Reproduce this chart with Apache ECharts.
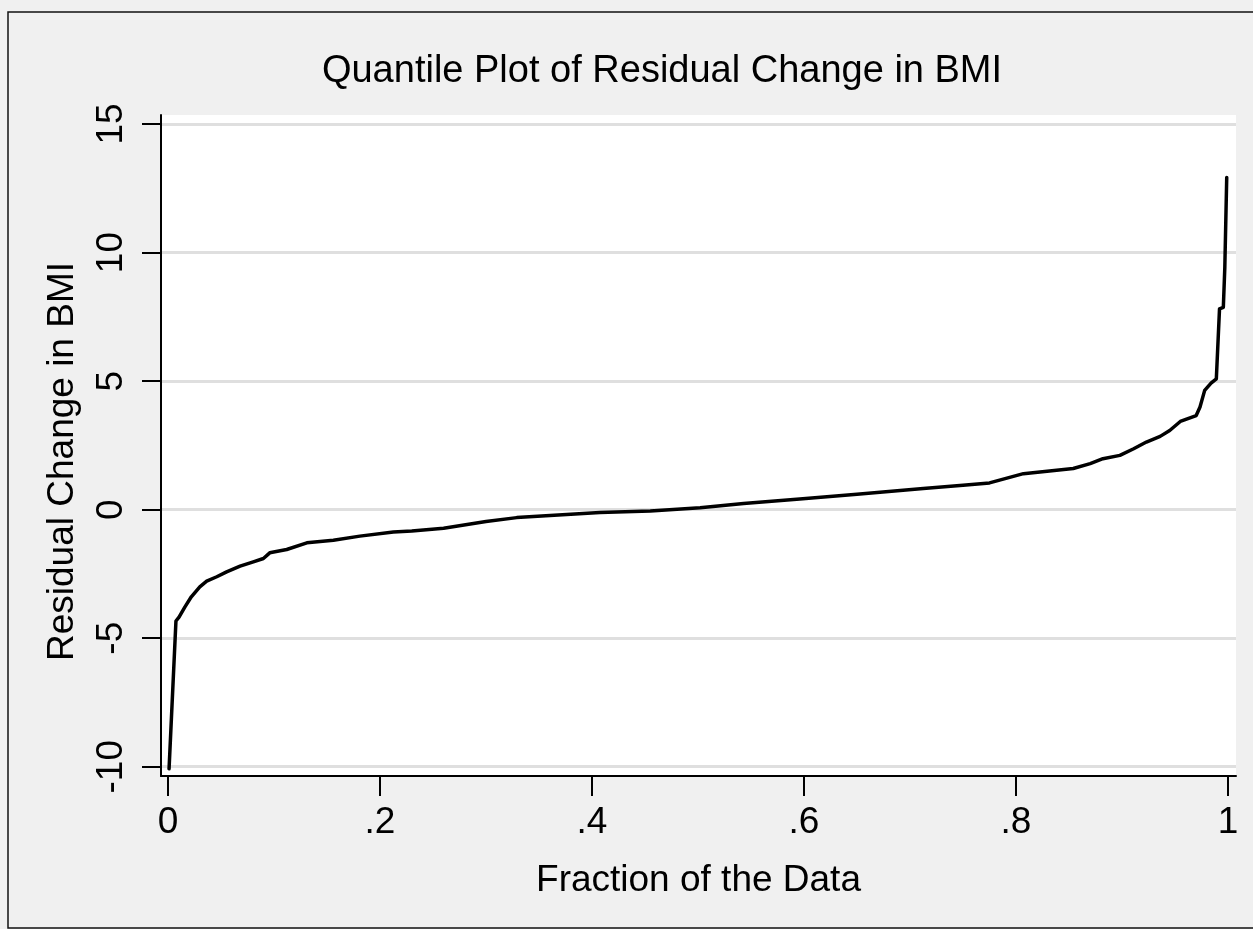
<!DOCTYPE html>
<html>
<head>
<meta charset="utf-8">
<title>Quantile Plot of Residual Change in BMI</title>
<script src="https://cdn.jsdelivr.net/npm/echarts@6/dist/echarts.min.js"></script>
<style>
  html, body { margin: 0; padding: 0; background: #f0f0f0; }
  #main { width: 1253px; height: 929px; }
</style>
</head>
<body>
<div id="main"></div>
<script>
// fraction of the data (x) and residual change in BMI (y)
var fractions = [0.001, 0.0075, 0.0104, 0.016, 0.022, 0.030, 0.0365, 0.046, 0.0553, 0.068,
    0.0805, 0.09, 0.096, 0.112, 0.131, 0.156, 0.181, 0.2126, 0.23, 0.26,
    0.30, 0.329, 0.4075, 0.455, 0.502, 0.543, 0.596, 0.65, 0.7125, 0.75,
    0.775, 0.807, 0.854, 0.87, 0.882, 0.898, 0.911, 0.923, 0.936, 0.945,
    0.955, 0.970, 0.9736, 0.978, 0.984, 0.989, 0.992, 0.9956, 0.997, 0.9988];
var residuals = [-10.08, -4.33, -4.18, -3.78, -3.39, -3.0, -2.78, -2.61, -2.42, -2.2,
    -2.03, -1.9, -1.68, -1.55, -1.29, -1.19, -1.03, -0.87, -0.83, -0.72,
    -0.46, -0.31, -0.11, -0.05, 0.07, 0.24, 0.41, 0.60, 0.82, 0.95,
    1.04, 1.40, 1.60, 1.79, 1.98, 2.11, 2.37, 2.63, 2.85, 3.08,
    3.43, 3.66, 3.99, 4.64, 4.92, 5.09, 7.81, 7.87, 9.42, 12.92];
var xTicks = [0, 0.2, 0.4, 0.6, 0.8, 1];
var yTicks = [-10, -5, 0, 5, 10, 15];

var points = [];
for (var i = 0; i < fractions.length; i++) {
    points.push([fractions[i], residuals[i]]);
}

var font = '"Liberation Sans", Arial, Helvetica, sans-serif';

var dom = document.getElementById("main");
var myChart = echarts.init(dom);

var option = {
    backgroundColor: '#f0f0f0',
    animation: false,
    title: {
        text: 'Quantile Plot of Residual Change in BMI',
        left: 662,
        top: 53,
        textAlign: 'center',
        padding: 0,
        textStyle: { fontFamily: font, fontSize: 38, fontWeight: 'normal', color: '#000' }
    },
    graphic: [{
        type: 'rect',
        shape: { x: 8, y: 12, width: 1270, height: 916 },
        style: { fill: 'none', stroke: '#111', lineWidth: 1.5 },
        z: 100
    }],
    grid: {
        left: 161, right: 17, top: 115, bottom: 153,
        show: true, backgroundColor: '#fff', borderWidth: 0
    },
    xAxis: {
        type: 'value',
        min: -0.0066,
        max: 1.00755,
        name: 'Fraction of the Data',
        nameLocation: 'middle',
        nameGap: 86,
        nameTextStyle: { fontFamily: font, fontSize: 37, color: '#000' },
        axisLine: { show: true, onZero: false, lineStyle: { color: '#000', width: 2 } },
        axisTick: { show: true, length: 20, customValues: xTicks, lineStyle: { color: '#000', width: 2 } },
        axisLabel: {
            customValues: xTicks,
            margin: 28,
            fontFamily: font, fontSize: 37, color: '#000',
            formatter: function (v) {
                return String(+v.toFixed(1)).replace(/^0\./, '.');
            }
        },
        splitLine: { show: false }
    },
    yAxis: {
        type: 'value',
        min: -10.36,
        max: 15.35,
        name: 'Residual Change in BMI',
        nameLocation: 'middle',
        nameRotate: 90,
        nameGap: 80,
        nameTextStyle: { fontFamily: font, fontSize: 37, color: '#000', padding: [0, 32, 0, 0] },
        axisLine: { show: true, onZero: false, lineStyle: { color: '#000', width: 2 } },
        axisTick: { show: true, length: 19, customValues: yTicks, lineStyle: { color: '#000', width: 2 } },
        axisLabel: {
            customValues: yTicks,
            rotate: 90,
            margin: 31,
            fontFamily: font, fontSize: 37, color: '#000'
        },
        splitLine: { show: true, lineStyle: { color: '#dfdfdf', width: 3 } }
    },
    series: [{
        type: 'line',
        data: points,
        showSymbol: false,
        lineStyle: { color: '#000', width: 3.5, join: 'round', cap: 'round' }
    }]
};
myChart.setOption(option);
</script>
</body>
</html>
